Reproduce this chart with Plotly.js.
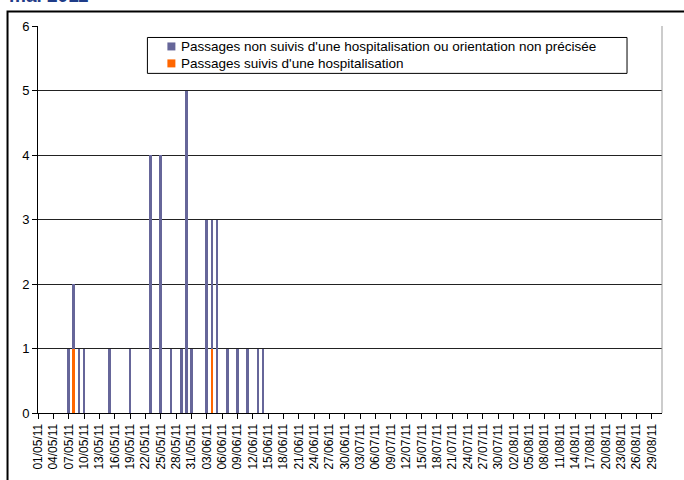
<!DOCTYPE html>
<html>
<head>
<meta charset="utf-8">
<script src="https://cdn.plot.ly/plotly-3.0.1.min.js"></script>
<style>html,body{margin:0;padding:0;background:#fff;}#chart{width:684px;height:480px;}</style>
</head>
<body>
<div id="chart"></div>
<script>
// Passages non suivis d'une hospitalisation ou orientation non précisée
var datesNon = ['2011-05-07','2011-05-08','2011-05-09','2011-05-10','2011-05-15','2011-05-19',
                '2011-05-23','2011-05-25','2011-05-27','2011-05-29','2011-05-30','2011-05-31',
                '2011-06-03','2011-06-04','2011-06-05','2011-06-07','2011-06-09','2011-06-11',
                '2011-06-13','2011-06-14'];
var valuesNon = [1,1,1,1,1,1,
                 4,4,1,1,5,1,
                 3,2,3,1,1,1,
                 1,1];
// Passages suivis d'une hospitalisation
var datesHosp = ['2011-05-08','2011-06-04'];
var valuesHosp = [1,1];

var xStart = '2011-05-01';
var xEnd = '2011-08-31';
var nameNon = "Passages non suivis d'une hospitalisation ou orientation non précisée";
var nameHosp = "Passages suivis d'une hospitalisation";
var titleText = 'mai 2011';

var colorNon = '#666699';
var colorHosp = '#FF6600';

var DAY = 86400000;
var FONT = 'Liberation Sans, Arial, sans-serif';

// plot-area geometry (pixels) for placing decorations in paper coordinates
var L = 37.5, R = 662, T = 25.5, B = 413.5;
function px(x){ return (x - L) / (R - L); }
function py(y){ return (B - y) / (B - T); }

var traces = [
  {type:'bar', x:datesHosp, y:valuesHosp, name:nameHosp, width:0.55*DAY,
   marker:{color:colorHosp, line:{width:0}}, showlegend:false},
  {type:'bar', x:datesNon, y:valuesNon, name:nameNon, width:0.55*DAY,
   marker:{color:colorNon, line:{width:0}}, showlegend:false}
];

var legendItems = [
  {name:nameNon, color:colorNon, yc:46},
  {name:nameHosp, color:colorHosp, yc:63}
];

var shapes = [
  {type:'line', xref:'paper', yref:'paper', x0:1, x1:1, y0:0, y1:1,
   line:{color:'#999', width:1}},
  {type:'rect', xref:'paper', yref:'paper', x0:px(7), x1:1.2, y0:-0.3, y1:py(11),
   line:{color:'#000', width:2}, fillcolor:'rgba(0,0,0,0)'},
  // legend box
  {type:'rect', xref:'paper', yref:'paper', x0:px(147), x1:px(627), y0:py(73), y1:py(37),
   line:{color:'#000', width:1}, fillcolor:'#ffffff', layer:'above'}
];
var annotations = [
  {text:titleText, xref:'paper', yref:'paper', x:px(6), y:1.0477,
   xanchor:'left', yanchor:'bottom', showarrow:false,
   font:{family:FONT, size:19, color:'#1F3C88', weight:'bold'}}
];
legendItems.forEach(function(it){
  shapes.push({type:'rect', xref:'paper', yref:'paper', x0:px(167), x1:px(175),
               y0:py(it.yc+4), y1:py(it.yc-4), line:{width:0}, fillcolor:it.color, layer:'above'});
  annotations.push({text:it.name, xref:'paper', yref:'paper', x:px(180), y:py(it.yc),
                    xanchor:'left', yanchor:'middle', showarrow:false, borderpad:0,
                    font:{family:FONT, size:13.5, color:'#000'}});
});

var layout = {
  width:684, height:480,
  margin:{l:L, r:684-R, t:T, b:480-B},
  paper_bgcolor:'#ffffff', plot_bgcolor:'#ffffff',
  barmode:'stack', bargap:0,
  font:{family:FONT, color:'#000'},
  showlegend:false,
  xaxis:{type:'date', range:[xStart, xEnd], tick0:xStart, dtick:3*DAY,
         tickformat:'%d/%m/%y', tickangle:-90, ticks:'outside', ticklen:5,
         tickcolor:'#000', showline:true, linecolor:'#000', linewidth:1,
         showgrid:false, zeroline:false,
         tickfont:{family:FONT, size:12, color:'#000'}},
  yaxis:{range:[0,6], dtick:1, ticks:'outside', ticklen:5, tickcolor:'#000',
         showline:true, linecolor:'#000', linewidth:1,
         showgrid:true, gridcolor:'#222', gridwidth:1, zeroline:false,
         tickfont:{family:FONT, size:13, color:'#000'}},
  shapes:shapes,
  annotations:annotations
};

Plotly.newPlot('chart', traces, layout, {displayModeBar:false, staticPlot:true});
</script>
</body>
</html>
